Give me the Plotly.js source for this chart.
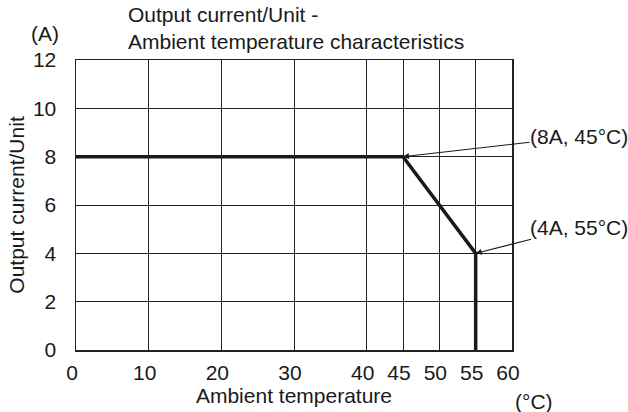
<!DOCTYPE html>
<html>
<head>
<meta charset="utf-8">
<script src="https://cdn.plot.ly/plotly-3.0.1.min.js"></script>
<style>html,body{margin:0;padding:0;background:#fff;}#chart{width:628px;height:412px;}</style>
</head>
<body>
<div id="chart"></div>
<script>
// Data
var temperature = [0, 45, 55, 55];
var current = [8, 8, 4, 0];
var xTickVals = [0, 10, 20, 30, 40, 45, 50, 55, 60];
var xTickText = ['0', '10', '20', '30', '40', '45', '50', '55', '60'];
var yTickVals = [0, 2, 4, 6, 8, 10, 12];
var pointLabels = ['(8A, 45°C)', '(4A, 55°C)'];
var pointX = [45, 55];
var pointY = [8, 4];

var FONT = 'Liberation Sans, Arial, Helvetica, sans-serif';
var FS = 21;

var trace = {
  x: temperature, y: current, type: 'scatter', mode: 'lines',
  line: {color: '#1a1a1a', width: 3.5}, hoverinfo: 'skip', showlegend: false
};

var arrowOffsets = [[176, -20], [103, -26]];
var annotations = pointLabels.map(function (t, i) {
  return {
    x: pointX[i], y: pointY[i], xref: 'x', yref: 'y', text: t,
    showarrow: true, ax: arrowOffsets[i][0], ay: arrowOffsets[i][1],
    arrowhead: 2, arrowsize: 1.1, arrowwidth: 1.1, arrowcolor: '#1a1a1a',
    standoff: 0, borderpad: 0,
    font: {family: FONT, size: FS, color: '#1a1a1a'}
  };
});
annotations.push({
  xref: 'paper', yref: 'paper', x: -0.07, y: 1.0, yshift: 27, text: '(A)', showarrow: false,
  xanchor: 'center', yanchor: 'middle', font: {family: FONT, size: FS, color: '#1a1a1a'}
});
annotations.push({
  xref: 'paper', yref: 'paper', x: 1.05, y: 0, yshift: -51, text: '(°C)', showarrow: false,
  xanchor: 'center', yanchor: 'middle', font: {family: FONT, size: FS, color: '#1a1a1a'}
});

var layout = {
  width: 628, height: 412,
  margin: {l: 75.5, r: 116, t: 60, b: 62, pad: 0},
  paper_bgcolor: '#fff', plot_bgcolor: '#fff',
  font: {family: FONT, size: FS, color: '#1a1a1a'},
  title: {
    text: 'Output current/Unit -<br>Ambient temperature characteristics',
    x: 128 / 628, xanchor: 'left', xref: 'container',
    y: 1 - 22 / 412, yanchor: 'top', yref: 'container',
    font: {family: FONT, size: FS, color: '#1a1a1a'}
  },
  xaxis: {
    range: [0, 60], tickmode: 'array', tickvals: xTickVals, ticktext: xTickText,
    showgrid: true, gridcolor: '#222', gridwidth: 1,
    showline: true, linecolor: '#222', linewidth: 1.5, mirror: true,
    zeroline: false, ticks: '', ticklabelstandoff: 3, ticklabelshift: -4,
    tickfont: {family: FONT, size: FS, color: '#1a1a1a'},
    title: {text: 'Ambient temperature', standoff: 5, font: {family: FONT, size: FS, color: '#1a1a1a'}},
    fixedrange: true
  },
  yaxis: {
    range: [0, 12], tickmode: 'array', tickvals: yTickVals,
    showgrid: true, gridcolor: '#222', gridwidth: 1,
    showline: true, linecolor: '#222', linewidth: 1.5, mirror: true,
    zeroline: false, ticks: '', ticklabelstandoff: 14,
    tickfont: {family: FONT, size: FS, color: '#1a1a1a'},
    title: {text: 'Output current/Unit', standoff: 2, font: {family: FONT, size: FS, color: '#1a1a1a'}},
    fixedrange: true
  },
  annotations: annotations
};

Plotly.newPlot('chart', [trace], layout, {displayModeBar: false, staticPlot: true});
</script>
</body>
</html>
